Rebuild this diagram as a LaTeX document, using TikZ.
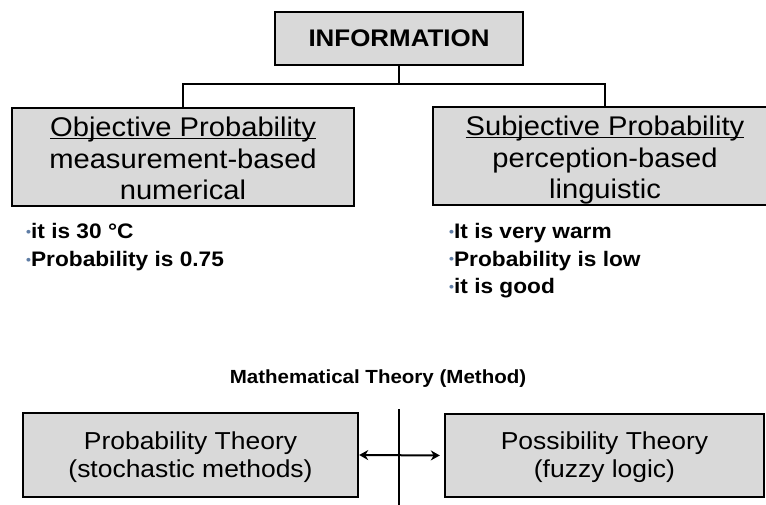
\documentclass[tikz,border=0pt]{standalone}
\usepackage{fontspec}
\setmainfont[FakeStretch=1.08]{Liberation Sans}
\usetikzlibrary{arrows.meta}

\definecolor{boxgray}{RGB}{217,217,217}
\definecolor{dotblue}{RGB}{95,125,165}

% underline that sits just under the baseline, crossing descenders
\newcommand{\ulword}[1]{\setbox0\hbox{#1}\rlap{\rule[-2.8pt]{\wd0}{1.6pt}}\box0}
% small coloured list dot
\newcommand{\dotitem}{\textcolor{dotblue}{\fontsize{13}{13}\selectfont\raisebox{2pt}{•}}}
% invisible strut that lowers a text block a little inside its box
\newcommand{\topstrut}[1]{\rule{0pt}{#1}}

\begin{document}
\begin{tikzpicture}[x=1pt,y=-1pt,
  box/.style={draw=black, line width=2.4pt, fill=boxgray, inner sep=0pt, align=center},
  link/.style={line width=2pt},
  listline/.style={anchor=base west, inner sep=0pt, font=\bfseries\fontsize{21}{28}\selectfont},
  >={Stealth[length=9pt,width=10pt]}]
\clip (0,0) rectangle (766,505);

% information tree
\node[box, minimum width=248pt, minimum height=53pt,
      font=\bfseries\fontsize{24}{28}\selectfont] (info) at (399,38.5) {INFORMATION};
\node[box, minimum width=342pt, minimum height=98pt,
      font=\fontsize{27}{31.5}\selectfont] (obj) at (183,157)
  {\topstrut{28pt}\ulword{Objective Probability}\\measurement-based\\numerical\vphantom{g}};
\node[box, minimum width=344pt, minimum height=98pt,
      font=\fontsize{27}{31.5}\selectfont] (subj) at (605,156)
  {\topstrut{28pt}\ulword{Subjective Probability}\\perception-based\\linguistic};

\draw[link] (info.south) -- ++(0,18) coordinate (fork) -| (obj.north);
\draw[link] (fork) -| (subj.north);

% examples
\node[listline] (o1) at (26,239) {\dotitem it is 30 °C};
\node[listline] (o2) at (26,267) {\dotitem Probability is 0.75};
\node[listline] (s1) at (449,239) {\dotitem It is very warm};
\node[listline] (s2) at (449,266) {\dotitem Probability is low};
\node[listline] (s3) at (449,294) {\dotitem it is good};

% methods
\node[font=\bfseries\fontsize{19}{22}\selectfont] (math) at (378,379) {Mathematical Theory (Method)};

\node[box, minimum width=335pt, minimum height=84pt,
      font=\fontsize{24.5}{28}\selectfont] (prob) at (190.5,455)
  {\topstrut{22pt}Probability Theory\\(stochastic methods)};
\node[box, minimum width=319pt, minimum height=83pt,
      font=\fontsize{24.5}{28}\selectfont] (poss) at (604.5,455.5)
  {\topstrut{22pt}Possibility Theory\\(fuzzy logic)};

\coordinate (axtop) at (399,409);
\coordinate (axbot) at (399,506);
\draw[link] (axtop) -- (axbot);
\draw[link, <->, shorten >=4pt] (prob.east) -- (poss.west);
\end{tikzpicture}
\end{document}
